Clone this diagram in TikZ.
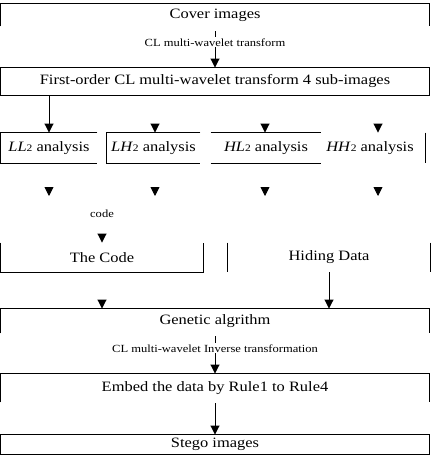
\documentclass[tikz,border=0pt]{standalone}
\usepackage{fontspec}
\setmainfont{Liberation Serif}[FakeStretch=1.15]
\usetikzlibrary{arrows.meta}
\newcommand{\mainsz}{\fontsize{14.3pt}{16pt}\selectfont}
\newcommand{\smallsz}{\fontsize{10.9pt}{12pt}\selectfont}
\newcommand{\sub}[1]{{\fontsize{10pt}{10pt}\selectfont #1}}
\begin{document}
\begin{tikzpicture}[x=1pt,y=-1pt,
  every path/.style={line width=0.9pt},
  box/.style={inner sep=0pt, font=\mainsz},
  lbl/.style={inner sep=1pt, fill=white, font=\smallsz},
  arr/.style={-{Triangle[length=9pt,width=9pt]}, line width=0.9pt}]
\useasboundingbox (0,0) rectangle (431,463);

% boxes
\node[box, minimum width=428pt, minimum height=22pt] (cover) at (215,15) {Cover images};
\draw (cover.south west) -- (cover.north west) -- (cover.north east) -- (cover.south east);

\node[box, minimum width=428pt, minimum height=27pt] (first) at (215,81.5) {First-order CL multi-wavelet transform 4 sub-images};
\draw (first.south west) rectangle (first.north east);

\node[box, minimum width=96pt, minimum height=30pt] (ll) at (49,148) {\textit{LL}\sub{2} analysis};
\draw (ll.north east) -- (ll.north west) -- (ll.south west) -- (ll.south east);

\node[box, minimum width=93pt, minimum height=30pt] (lh) at (153.5,148) {\textit{LH}\sub{2} analysis};
\draw (lh.north east) -- (lh.north west) -- (lh.south west) -- (lh.south east);

\node[box, minimum width=110pt, minimum height=30pt] (hl) at (266,148) {\textit{HL}\sub{2} analysis};
\draw (hl.north west) -- (hl.north east);
\draw (hl.south west) -- (hl.south east);

\node[box, minimum width=110pt, minimum height=30pt] (hh) at (370,148) {\textit{HH}\sub{2} analysis};
\draw (hh.north east) -- (hh.south east);

\node[box, minimum width=202pt, minimum height=29pt] (code) at (102,257.5) {The Code};
\draw (code.north west) -- (code.south west) -- (code.south east) -- (code.north east);

\node[box, minimum width=202pt, minimum height=29pt] (hide) at (329,257.5) {Hiding Data};
\draw (hide.north west) -- (hide.south west);
\draw (hide.north east) -- (hide.south east);

\node[box, minimum width=428pt, minimum height=24pt] (ga) at (215,321) {Genetic algrithm};
\draw (ga.south west) -- (ga.north west) -- (ga.north east) -- (ga.south east);

\node[box, minimum width=428pt, minimum height=28pt] (embed) at (215,388) {Embed the data by Rule1 to Rule4};
\draw (embed.south west) -- (embed.north west) -- (embed.north east) -- (embed.south east);

\node[box, minimum width=428pt, minimum height=19pt] (stego) at (215,444.5) {Stego images};
\draw (stego.south west) rectangle (stego.north east);

% connectors
\draw[arr] ([yshift=-5pt]cover.south) -- node[lbl, pos=0.3] {CL multi-wavelet transform} (first.north);
\draw[arr] (first.south -| ll.north) -- (ll.north);

% lone arrowheads above the analysis row
\coordinate (a2) at (155,124);
\coordinate (a3) at (265,124);
\coordinate (a4) at (378,124);
\draw[arr] (a2) -- (a2 |- lh.north);
\draw[arr] (a3) -- (a3 |- hl.north);
\draw[arr] (a4) -- (a4 |- hh.north);

% lone arrowheads below the analysis row
\coordinate (b1) at (49,187);
\coordinate (b2) at (155,187);
\coordinate (b3) at (265,187);
\coordinate (b4) at (378,187);
\coordinate (b1e) at (49,196);
\coordinate (b2e) at (155,196);
\coordinate (b3e) at (265,196);
\coordinate (b4e) at (378,196);
\draw[arr] (b1) -- (b1e);
\draw[arr] (b2) -- (b2e);
\draw[arr] (b3) -- (b3e);
\draw[arr] (b4) -- (b4e);

% code label and arrow into The Code
\node[lbl, fill=none] (codelbl) at (102,214) {code};
\coordinate (c0) at (102,234);
\draw[arr] (c0) -- (code.north);

% into genetic algorithm
\draw[arr] (hide.south) -- (hide.south |- ga.north);
\coordinate (g0) at (102,300);
\draw[arr] (g0) -- (g0 |- ga.north);

\draw[arr] ([yshift=-3pt]ga.south) -- node[lbl, pos=0.32] {CL multi-wavelet Inverse transformation} (embed.north);
\draw[arr] ([yshift=-1pt]embed.south) -- (stego.north);
\end{tikzpicture}
\end{document}
